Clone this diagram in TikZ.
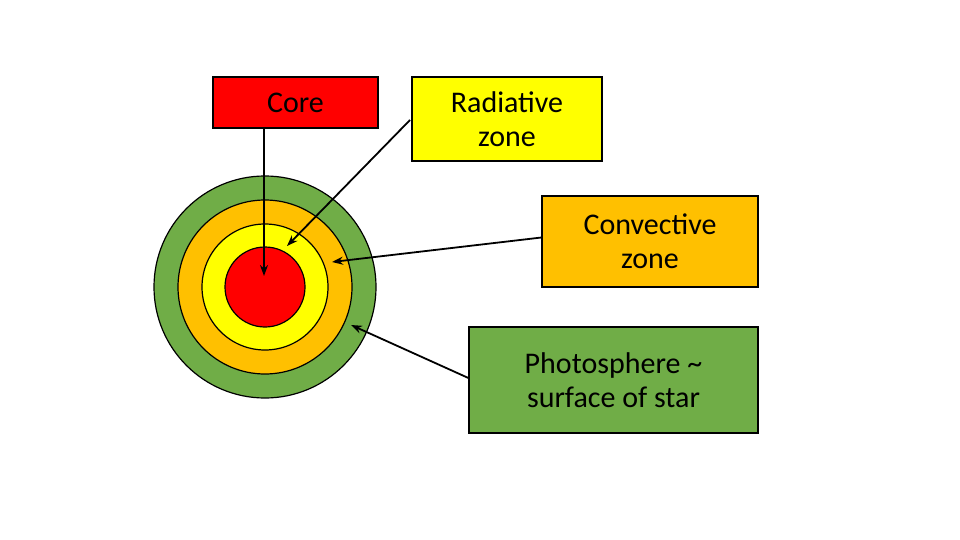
\documentclass[tikz,border=0pt]{standalone}
\usepackage{fontspec}
\setmainfont{Carlito}
\usetikzlibrary{arrows.meta}
\definecolor{cred}{HTML}{FF0000}
\definecolor{cyel}{HTML}{FFFF00}
\definecolor{corg}{HTML}{FFC000}
\definecolor{cgrn}{HTML}{70AD47}
\begin{document}
\begin{tikzpicture}[x=1pt,y=-1pt,
  lbl/.style={draw=black,line width=1.2pt,inner sep=0pt,align=center,font=\fontsize{30}{34}\selectfont},
  ring/.style={draw=black,line width=1.2pt},
  arr/.style={draw=black,line width=1.8pt,-{Stealth[length=11pt,width=8pt]}}]
\useasboundingbox (0,0) rectangle (960,540);
\fill[white] (0,0) rectangle (960,540);
\coordinate (c) at (265,287);
\path[ring,fill=cgrn] (c) circle[radius=111];
\path[ring,fill=corg] (c) circle[radius=87];
\path[ring,fill=cyel] (c) circle[radius=63];
\path[ring,fill=cred] (c) circle[radius=40];
\node[lbl,fill=cred,minimum width=165pt,minimum height=51pt] (core) at (295.5,102.5) {Core};
\node[lbl,fill=cyel,minimum width=190pt,minimum height=84pt] (rad) at (507,119) {Radiative\\zone};
\node[lbl,fill=corg,minimum width=216pt,minimum height=91pt] (conv) at (650,241.5) {Convective\\zone};
\node[lbl,fill=cgrn,minimum width=289pt,minimum height=106pt] (ph) at (613.5,380) {Photosphere \textasciitilde\\surface of star};
\coordinate (t1) at (264,276);
\coordinate (t2) at (287,246);
\coordinate (t3) at (332,262);
\coordinate (t4) at (351,325);
\coordinate (s2) at (410,120);
\draw[arr] (core.south -| t1) -- (t1);
\draw[arr] (s2) -- (t2);
\draw[arr] (conv.west) ++(0,-4) -- (t3);
\draw[arr] (ph.west) ++(0,-2) -- (t4);
\end{tikzpicture}
\end{document}
